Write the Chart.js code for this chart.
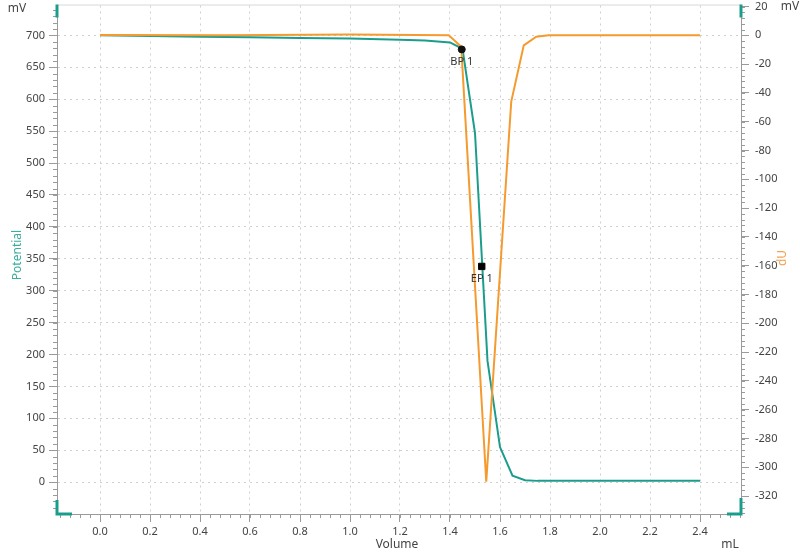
<!DOCTYPE html>
<html>
<head>
<meta charset="utf-8">
<script src="https://cdn.jsdelivr.net/npm/chart.js@4.4.1/dist/chart.umd.min.js"></script>
<style>
  html, body { margin: 0; padding: 0; background: #fff; }
</style>
</head>
<body>
<canvas id="chart" width="800" height="553"></canvas>
<script>
// ---- data ----
const volume    = [0, 0.2, 0.4, 0.6, 0.8, 1.0, 1.2, 1.3, 1.4, 1.45, 1.5, 1.55, 1.6, 1.65, 1.7, 1.75, 1.8, 2.0, 2.2, 2.4];
const potential = [700, 699, 698, 697, 696, 695, 693, 692, 689, 679, 547, 190, 55, 10, 3, 2, 2, 2, 2, 2];

const duVolume = [0, 0.5, 1.0, 1.395, 1.445, 1.545, 1.645, 1.695, 1.745, 1.795, 2.0, 2.4];
const dU       = [0.3, 0, 0.5, 0, -8, -310, -46, -7, -1, 0, 0, 0];

const bpPoint = { x: 1.447, y: 678 };   // BP 1 on Potential
const epPoint = { x: 1.527, y: 338 };   // EP 1 on Potential

const volumeTicks    = [0, 0.2, 0.4, 0.6, 0.8, 1.0, 1.2, 1.4, 1.6, 1.8, 2.0, 2.2, 2.4];
const potentialTicks = [0, 50, 100, 150, 200, 250, 300, 350, 400, 450, 500, 550, 600, 650, 700];
const duTicks        = [20, 0, -20, -40, -60, -80, -100, -120, -140, -160, -180, -200, -220, -240, -260, -280, -300, -320];

const TEAL = '#1c9d8c';
const ORANGE = '#f59a2e';
const FONT = "'Noto Sans', 'DejaVu Sans', sans-serif";
const AXIS = '#9a9a9a';
const GRID = '#cfcfcf';

const toXY = (xs, ys) => xs.map((x, i) => ({ x, y: ys[i] }));

// no extra room for half tick labels at the ends, plot box is fixed
const noPad = s => { s.paddingTop = 0; s.paddingBottom = 0; s.paddingLeft = 0; s.paddingRight = 0; };

// minor ticks, corner handles, units, titles, marker labels
const decor = {
  id: 'decor',
  afterDraw(chart) {
    const { ctx, chartArea: a, scales } = chart;
    const x = scales.x, yl = scales.y, yr = scales.y2;
    ctx.save();
    // top frame line
    ctx.strokeStyle = '#d8d8d8'; ctx.lineWidth = 1;
    ctx.beginPath(); ctx.moveTo(a.left, a.top - 0.5); ctx.lineTo(a.right, a.top - 0.5); ctx.stroke();

    // minor ticks
    ctx.strokeStyle = AXIS; ctx.lineWidth = 1;
    ctx.beginPath();
    for (let v = -40; v <= 740; v += 10) {
      const p = Math.round(yl.getPixelForValue(v)) + 0.5;
      ctx.moveTo(a.left - 4, p); ctx.lineTo(a.left, p);
    }
    for (let v = 20; v >= -332; v -= 4) {
      const p = Math.round(yr.getPixelForValue(v)) + 0.5;
      ctx.moveTo(a.right, p); ctx.lineTo(a.right + 4, p);
    }
    for (let i = -4; i <= 64; i++) {
      const p = Math.round(x.getPixelForValue(i * 0.04)) + 0.5;
      if (p < a.left || p > a.right) continue;
      ctx.moveTo(p, a.bottom); ctx.lineTo(p, a.bottom + 4);
    }
    ctx.stroke();

    // teal range handles at the corners
    ctx.strokeStyle = TEAL; ctx.lineWidth = 3;
    ctx.beginPath();
    ctx.moveTo(a.left, a.top - 1); ctx.lineTo(a.left, a.top + 12);
    ctx.moveTo(a.left, a.bottom - 14); ctx.lineTo(a.left, a.bottom); ctx.lineTo(a.left + 15, a.bottom);
    ctx.moveTo(a.right - 14, a.bottom); ctx.lineTo(a.right, a.bottom); ctx.lineTo(a.right, a.bottom - 16);
    ctx.moveTo(a.right, a.top - 1); ctx.lineTo(a.right, a.top + 12);
    ctx.stroke();

    // units and axis names
    ctx.font = '12px ' + FONT;
    ctx.fillStyle = '#444';
    ctx.textBaseline = 'middle';
    ctx.textAlign = 'center';
    ctx.fillText('mV', 17, 9);
    ctx.fillText('mV', 790, 7);
    ctx.fillText('Volume', 397, 545);
    ctx.fillText('mL', 730, 545);

    ctx.save();
    ctx.translate(18, 255); ctx.rotate(-Math.PI / 2);
    ctx.fillStyle = '#3aae9f';
    ctx.fillText('Potential', 0, 0);
    ctx.restore();
    ctx.save();
    ctx.translate(783, 258); ctx.rotate(-Math.PI / 2);
    ctx.fillStyle = '#f3a457';
    ctx.fillText('dU', 0, 0);
    ctx.restore();

    // marker labels
    ctx.font = '11px ' + FONT;
    ctx.fillStyle = '#333';
    ctx.fillText('BP 1', x.getPixelForValue(bpPoint.x), yl.getPixelForValue(bpPoint.y) + 12);
    ctx.fillText('EP 1', x.getPixelForValue(epPoint.x), yl.getPixelForValue(epPoint.y) + 12);
    ctx.restore();
  }
};

const tickFont = { family: FONT, size: 11 };

new Chart(document.getElementById('chart'), {
  type: 'scatter',
  data: {
    datasets: [
      { label: 'BP 1', data: [bpPoint], yAxisID: 'y', pointStyle: 'circle', pointRadius: 3.5,
        backgroundColor: '#111', borderColor: '#111', order: 0 },
      { label: 'EP 1', data: [epPoint], yAxisID: 'y', pointStyle: 'rect', pointRadius: 4.5,
        backgroundColor: '#000', borderColor: '#000', order: 0 },
      { label: 'dU', data: toXY(duVolume, dU), yAxisID: 'y2', showLine: true, pointRadius: 0,
        borderColor: ORANGE, borderWidth: 2, order: 1 },
      { label: 'Potential', data: toXY(volume, potential), yAxisID: 'y', showLine: true, pointRadius: 0,
        borderColor: TEAL, borderWidth: 2, order: 2 }
    ]
  },
  options: {
    responsive: false,
    animation: false,
    layout: { padding: { top: 3 } },
    plugins: { legend: { display: false }, tooltip: { enabled: false } },
    scales: {
      x: {
        type: 'linear', min: -0.172, max: 2.564,
        afterBuildTicks: s => { s.ticks = volumeTicks.map(v => ({ value: v })); },
        afterFit: s => { s.height = 39; noPad(s); },
        ticks: { font: tickFont, color: '#444', padding: 3, maxRotation: 0,
                 callback: v => Number(v).toFixed(1) },
        grid: { color: GRID, tickColor: AXIS, tickLength: 8 },
        border: { color: AXIS, dash: [2, 4] }
      },
      y: {
        type: 'linear', position: 'left', min: -49.9, max: 746.8,
        afterBuildTicks: s => { s.ticks = potentialTicks.map(v => ({ value: v })); },
        afterFit: s => { s.width = 57; noPad(s); },
        ticks: { font: tickFont, color: '#444', padding: 4 },
        grid: { color: GRID, tickColor: AXIS, tickLength: 8 },
        border: { color: AXIS, dash: [2, 4] }
      },
      y2: {
        type: 'linear', position: 'right', min: -332.4, max: 20.7,
        afterBuildTicks: s => { s.ticks = duTicks.map(v => ({ value: v })); },
        afterFit: s => { s.width = 59; noPad(s); },
        ticks: { font: tickFont, color: '#444', padding: 6 },
        grid: { drawOnChartArea: false, tickColor: AXIS, tickLength: 8 },
        border: { color: AXIS }
      }
    }
  },
  plugins: [decor]
});
</script>
</body>
</html>
